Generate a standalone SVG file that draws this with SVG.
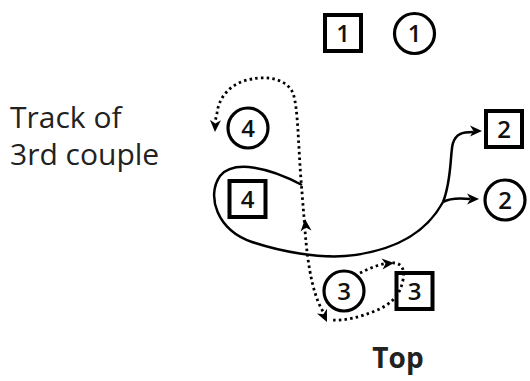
<svg xmlns="http://www.w3.org/2000/svg" width="530" height="381" viewBox="0 0 530 381">
<style>
.sq{fill:#fff;stroke:#000;stroke-width:4}
.ci{fill:#fff;stroke:#000;stroke-width:3.2}
.num{font-family:"Open Sans","DejaVu Sans",sans-serif;font-size:24px;font-weight:600;text-anchor:middle;fill:#111}
.lbl{font-family:"Open Sans","DejaVu Sans",sans-serif;font-size:30px;fill:#222}
.top{font-family:"Open Sans","DejaVu Sans",sans-serif;font-size:28px;font-weight:bold;fill:#222;text-anchor:middle}
.solid{fill:none;stroke:#000;stroke-width:2.5}
.dot{fill:none;stroke:#000;stroke-width:2.8;stroke-dasharray:2.5 3.2}
</style>
<defs>
<path id="ah" d="M0,0 L-12,-5.5 L-8.5,0 L-12,5.5 Z" fill="#000"/>
</defs>
<rect width="530" height="381" fill="#fff"/>
<g id="labels">
<text class="lbl" x="10" y="128">Track of</text>
<text class="lbl" x="10" y="165">3rd couple</text>
<text class="top" x="398" y="368">Top</text>
</g>
<g id="connectors">
<path class="solid" d="M302,185 C270,168 234,159 220,176 C206,196 217,230 252,242 C282,252 318,258 345,256 C390,252 425,235 443,202"/>
<path class="solid" d="M443,202 C450,198 460,198 470,199"/>
<path class="solid" d="M443,202 C452,180 450,152 453,143 C456,134 462,132 473,132"/>
<use href="#ah" transform="translate(479,199)"/>
<use href="#ah" transform="translate(482,131)"/>
<path class="dot" d="M326,316 C314,300 308,270 305,230 L301,180 C298,140 298,108 293,93 C286,78 266,76 252,79 C232,82 219,96 217,113 L215,122"/>
<path class="dot" d="M360,273 C372,267 385,262 395,263 C402,264 405,270 403,280 C400,295 392,304 375,311 C360,317 345,321 332,320"/>
<use href="#ah" transform="translate(394,263) rotate(-5)"/>
<use href="#ah" transform="translate(305,219) rotate(-95)"/>
<use href="#ah" transform="translate(327,322) rotate(65)"/>
<use href="#ah" transform="translate(215,132) rotate(92)"/>
</g>
<g id="sq1"><rect class="sq" x="325" y="15" width="36" height="36"/><text class="num" x="343" y="41.5">1</text></g>
<g id="ci1"><circle class="ci" cx="414.5" cy="33.5" r="20"/><text class="num" x="414.5" y="42">1</text></g>
<g id="sq2"><rect class="sq" x="486" y="111" width="36" height="36"/><text class="num" x="504" y="137.5">2</text></g>
<g id="ci2"><circle class="ci" cx="505" cy="200" r="20"/><text class="num" x="505" y="208.5">2</text></g>
<g id="ci4"><circle class="ci" cx="248" cy="128" r="20"/><text class="num" x="248" y="136.5">4</text></g>
<g id="sq4"><rect class="sq" x="229.5" y="181" width="36" height="36"/><text class="num" x="247.5" y="207.5">4</text></g>
<g id="ci3"><circle class="ci" cx="344" cy="291" r="20"/><text class="num" x="344" y="299.5">3</text></g>
<g id="sq3"><rect class="sq" x="396.5" y="273" width="36" height="36" style="fill:none"/><text class="num" x="414.5" y="299.5">3</text></g>
</svg>
